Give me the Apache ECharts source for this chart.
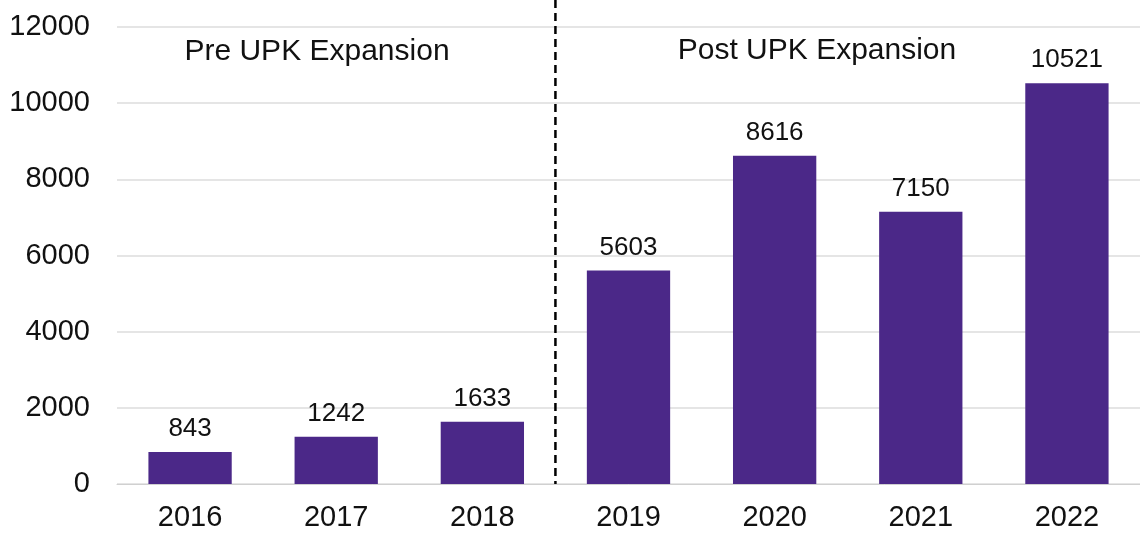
<!DOCTYPE html>
<html>
<head>
<meta charset="utf-8">
<script src="https://cdn.jsdelivr.net/npm/echarts@6/dist/echarts.min.js"></script>
<style>
  html, body { margin: 0; padding: 0; background: #fff; }
  #chart { width: 1140px; height: 536px; }
</style>
</head>
<body>
<div id="chart"></div>
<script>
// data
var years = ['2016', '2017', '2018', '2019', '2020', '2021', '2022'];
var counts = [843, 1242, 1633, 5603, 8616, 7150, 10521];
var yTicks = [0, 2000, 4000, 6000, 8000, 10000, 12000];
var periodNames = ['Pre UPK Expansion', 'Post UPK Expansion'];

var font = '"Liberation Sans", Arial, sans-serif';
var dom = document.getElementById('chart');
var myChart = echarts.init(dom);

var option = {
    animation: false,
    backgroundColor: '#fff',
    grid: {
        left: 117,
        top: 27,
        width: 1030,
        height: 457
    },
    xAxis: {
        type: 'category',
        data: years,
        axisTick: { show: false },
        axisLine: { lineStyle: { color: '#d0d0d0', width: 1 } },
        axisLabel: {
            color: '#111',
            fontSize: 29,
            fontFamily: font,
            margin: 19
        }
    },
    yAxis: {
        type: 'value',
        min: yTicks[0],
        max: yTicks[yTicks.length - 1],
        interval: 2000,
        axisLine: { show: false },
        axisTick: { show: false },
        splitLine: { lineStyle: { color: '#dcdcdc', width: 1.5 } },
        axisLabel: {
            color: '#111',
            fontSize: 29,
            fontFamily: font,
            margin: 27,
            formatter: function (v) { return String(v); }
        }
    },
    series: [{
        type: 'bar',
        data: counts,
        barWidth: '57%',
        itemStyle: { color: '#4b2888' },
        label: {
            show: true,
            position: 'top',
            distance: 10,
            color: '#111',
            fontSize: 26,
            fontFamily: font
        }
    }]
};
myChart.setOption(option, true);

// dashed divider between 2018 and 2019, plus the two period captions
var x2018 = myChart.convertToPixel({ xAxisIndex: 0 }, years[2]);
var x2019 = myChart.convertToPixel({ xAxisIndex: 0 }, years[3]);
var xDiv = (x2018 + x2019) / 2;
var yZero = myChart.convertToPixel({ yAxisIndex: 0 }, 0);

myChart.setOption({
    graphic: [
        {
            type: 'line',
            shape: { x1: xDiv, y1: 0, x2: xDiv, y2: yZero },
            style: { stroke: '#000', lineWidth: 2.5, lineDash: [8, 5] },
            z: 10
        },
        {
            type: 'text',
            x: 317, y: 52,
            style: {
                text: periodNames[0], fill: '#111', fontSize: 30, fontFamily: font,
                align: 'center', verticalAlign: 'middle'
            }
        },
        {
            type: 'text',
            x: 817, y: 51,
            style: {
                text: periodNames[1], fill: '#111', fontSize: 30, fontFamily: font,
                align: 'center', verticalAlign: 'middle'
            }
        }
    ]
});
</script>
</body>
</html>
